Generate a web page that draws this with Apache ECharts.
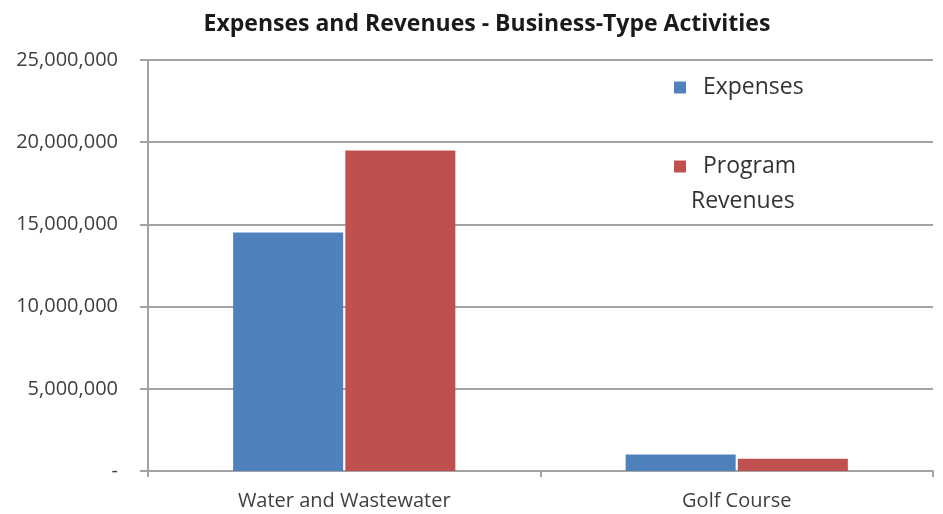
<!DOCTYPE html>
<html>
<head>
<meta charset="utf-8">
<title>Expenses and Revenues - Business-Type Activities</title>
<script src="https://cdn.jsdelivr.net/npm/echarts@6/dist/echarts.min.js"></script>
<style>
  html, body { margin: 0; padding: 0; background: #fff; }
  #chart { width: 943px; height: 514px; }
</style>
</head>
<body>
<div id="chart"></div>
<script>
// data
const categories = ["Water and Wastewater", "Golf Course"];
const expenses = [14500000, 1000000];
const programRevenues = [19500000, 750000];
const yTicks = [0, 5000000, 10000000, 15000000, 20000000, 25000000];

const font = "'Open Sans', 'Noto Sans', sans-serif";
const gridColor = "#a3a3a3";

const chart = echarts.init(document.getElementById("chart"));

const legendText = { fontFamily: font, fontSize: 23, color: "#333", lineHeight: 35 };

const options = {
  backgroundColor: "#fff",
  animation: false,
  title: {
    text: "Expenses and Revenues - Business-Type Activities",
    left: 482,
    textAlign: "center",
    top: 8,
    textStyle: { fontFamily: font, fontSize: 23, fontWeight: "bold", color: "#1a1a1a" },
  },
  // two legends; the blank first line keeps the icon level with "Program"
  legend: [
    {
      data: ["Expenses"],
      left: 669,
      top: 65,
      icon: "rect",
      itemWidth: 12,
      itemHeight: 12,
      formatter: (name) => "  " + name,
      textStyle: legendText,
    },
    {
      data: ["Program Revenues"],
      left: 669,
      top: 109,
      icon: "rect",
      itemWidth: 12,
      itemHeight: 12,
      formatter: () => "\n  Program\nRevenues",
      textStyle: legendText,
    },
  ],
  grid: {
    left: 148,
    right: 10,
    top: 60,
    bottom: 43,
    containLabel: false,
  },
  xAxis: {
    type: "category",
    data: categories,
    axisLine: { lineStyle: { color: gridColor, width: 2 } },
    axisTick: { show: true, length: 6, lineStyle: { color: gridColor, width: 2 } },
    axisLabel: { fontFamily: font, fontSize: 20, color: "#404040", margin: 20 },
  },
  yAxis: {
    type: "value",
    min: yTicks[0],
    max: yTicks[yTicks.length - 1],
    interval: yTicks[1] - yTicks[0],
    axisLine: { show: true, lineStyle: { color: gridColor, width: 2 } },
    axisTick: { show: true, length: 8, lineStyle: { color: gridColor, width: 2 } },
    splitLine: { lineStyle: { color: gridColor, width: 2 } },
    axisLabel: {
      fontFamily: font,
      fontSize: 20,
      color: "#404040",
      margin: 30,
      formatter: (v) => (v === 0 ? "-" : v.toLocaleString("en-US")),
    },
  },
  series: [
    {
      name: "Expenses",
      type: "bar",
      data: expenses,
      barWidth: 110,
      barGap: "2%",
      itemStyle: { color: "#4f81bd" },
    },
    {
      name: "Program Revenues",
      type: "bar",
      data: programRevenues,
      barWidth: 110,
      itemStyle: { color: "#c0504d" },
    },
  ],
};

chart.setOption(options);
</script>
</body>
</html>
